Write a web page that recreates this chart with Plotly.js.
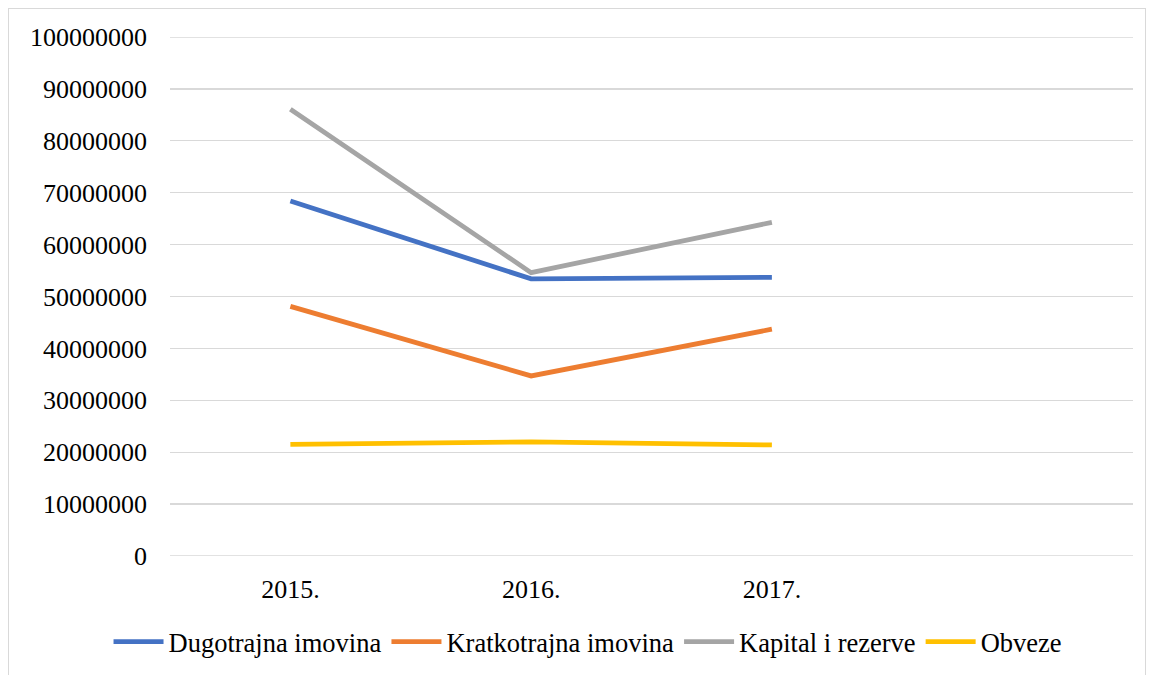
<!DOCTYPE html>
<html>
<head>
<meta charset="utf-8">
<script src="https://cdn.plot.ly/plotly-3.0.1.min.js"></script>
<style>
html,body{margin:0;padding:0;background:#fff;}
#chart{width:1153px;height:675px;}
#frame{position:absolute;left:8px;top:8px;width:1136px;height:680px;border:1px solid #d9d9d9;pointer-events:none;}
</style>
</head>
<body>
<div id="chart"></div>
<div id="frame"></div>
<script>
const categories = ["2015.", "2016.", "2017.", " "];
const dugotrajna = [68400000, 53400000, 53700000, null];
const kratkotrajna = [48100000, 34700000, 43700000, null];
const kapital = [86100000, 54600000, 64300000, null];
const obveze = [21500000, 22000000, 21400000, null];
const seriesNames = ["Dugotrajna imovina", "Kratkotrajna imovina", "Kapital i rezerve", "Obveze"];
const colors = ["#4472C4", "#ED7D31", "#A5A5A5", "#FFC000"];
const data = [dugotrajna, kratkotrajna, kapital, obveze].map((vals, i) => ({
  type: "scatter", mode: "lines", x: categories, y: vals, name: seriesNames[i],
  line: {color: colors[i], width: 4.8}, connectgaps: false
}));
const gridColor = "#d9d9d9";
const FONT = "Liberation Serif";
const layout = {
  width: 1153, height: 675,
  margin: {l: 170, r: 20, t: 37, b: 119},
  paper_bgcolor: "#fff", plot_bgcolor: "#fff",
  font: {family: FONT, size: 26, color: "#000"},
  showlegend: true,
  legend: {orientation: "h", xref: "container", x: 0.51, xanchor: "center", yref: "container", y: 0.049, yanchor: "middle", font: {family: FONT, size: 26.5}, itemwidth: 50, tracegroupgap: 0},
  xaxis: {type: "category", categoryorder: "array", categoryarray: categories, range: [-0.5, 3.5], showgrid: false, showline: false, zeroline: false, ticks: "", ticklabelstandoff: 15, tickfont: {family: FONT, size: 26}},
  yaxis: {range: [0, 100000000], dtick: 10000000, tickformat: "d", showgrid: true, gridcolor: gridColor, gridwidth: 1.3, zeroline: false, showline: false, ticks: "", ticklabelstandoff: 22, tickfont: {family: FONT, size: 26}},
  shapes: [0, 100000000].map(v => ({type: "line", xref: "paper", x0: 0, x1: 1, yref: "y", y0: v, y1: v, line: {color: gridColor, width: 1.3}, layer: "below"}))
};
Plotly.newPlot("chart", data, layout, {displayModeBar: false, staticPlot: true});
</script>
</body>
</html>
